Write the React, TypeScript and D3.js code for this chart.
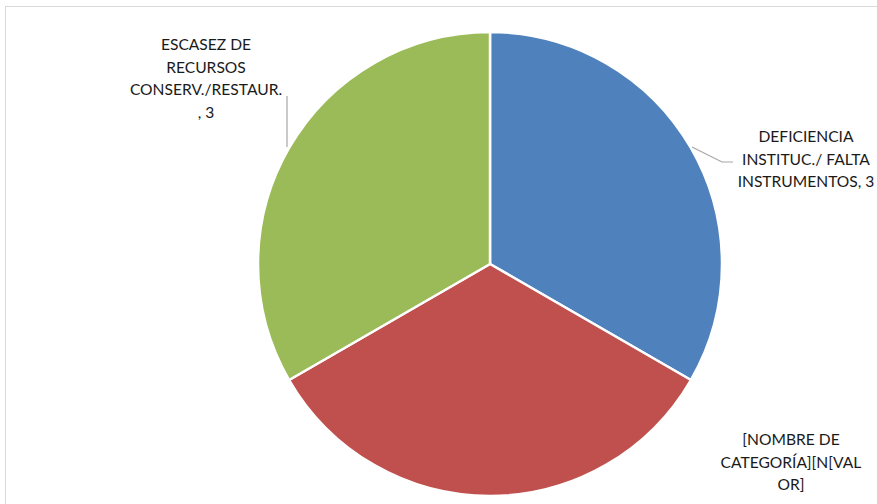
import React from "react";
import * as d3 from "d3";

const categories = [
  "DEFICIENCIA INSTITUC./ FALTA INSTRUMENTOS",
  "[NOMBRE DE CATEGORÍA]",
  "ESCASEZ DE RECURSOS CONSERV./RESTAUR.",
];
const values = [3, 3, 3];
const colors = ["#4F81BD", "#C0504D", "#9BBB59"];
const labelLines = [
  ["DEFICIENCIA", "INSTITUC./ FALTA", "INSTRUMENTOS, 3"],
  ["[NOMBRE DE", "CATEGORÍA][N[VAL", "OR]"],
  ["ESCASEZ DE", "RECURSOS", "CONSERV./RESTAUR.", ", 3"],
];

const W = 877;
const H = 504;
const cx = 490;
const cy = 264;
const R = 232;

const labelPos = [
  { x: 806, y: 142 },
  { x: 791, y: 445 },
  { x: 206, y: 50 },
];
const leaders = [
  [[692, 147], [722, 162], [733, 162]],
  null,
  [[287, 147], [287, 96]],
];

export default function App() {
  const data = categories.map((c, i) => ({ c, v: values[i], i }));
  const pie = d3.pie<any>().sort(null).value((d) => d.v);
  const arcs = pie(data);
  const arc = d3.arc<any>().innerRadius(0).outerRadius(R);
  const line = d3.line();
  const fontFamily = "Lato, 'Open Sans', sans-serif";
  return (
    <svg
      width={W}
      height={H}
      style={{ position: "absolute", left: 0, top: 0, background: "#fff" }}
    >
      <rect x={5.5} y={6.5} width={W + 10} height={H + 10} fill="#fff" stroke="#D9D9D9" strokeWidth={1} />
      <g transform={`translate(${cx},${cy})`}>
        {arcs.map((a, i) => (
          <path key={i} d={arc(a) as string} fill={colors[i]} stroke="#fff" strokeWidth={2.5} strokeLinejoin="round" />
        ))}
      </g>
      {leaders.map((l, i) =>
        l ? <path key={i} d={line(l as any) as string} fill="none" stroke="#A6A6A6" strokeWidth={1.2} /> : null
      )}
      {labelLines.map((lines, i) => (
        <text key={i} textAnchor="middle" fontFamily={fontFamily} fontSize={15.6} fill="#1a1a1a">
          {lines.map((t, j) => (
            <tspan key={j} x={labelPos[i].x} y={labelPos[i].y + j * 22.5}>
              {t}
            </tspan>
          ))}
        </text>
      ))}
    </svg>
  );
}
